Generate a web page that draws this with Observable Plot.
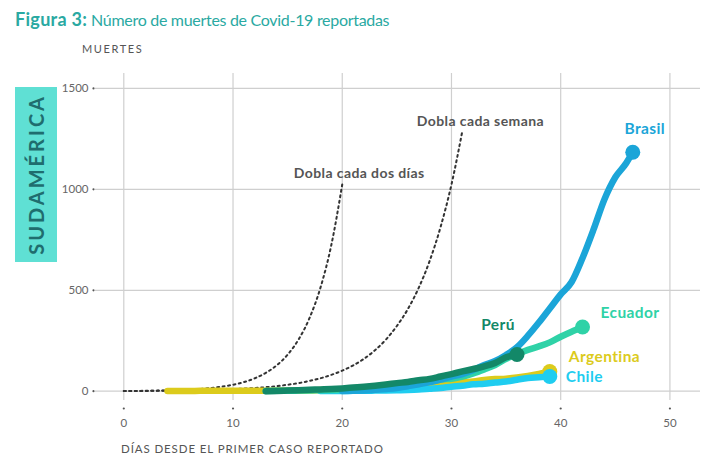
<!DOCTYPE html>
<html><head><meta charset="utf-8">
<script src="https://cdn.jsdelivr.net/npm/d3@7"></script>
<script src="https://cdn.jsdelivr.net/npm/@observablehq/plot@0.6"></script>
<style>
body{margin:0;background:#fff;font-family:Lato,sans-serif}
#wrap{position:relative;width:724px;height:462px;overflow:hidden;background:#fff}
#chart{position:absolute;left:0;top:0}
.title{position:absolute;left:15px;top:8px;font-size:16px;letter-spacing:-0.3px;color:#2aa9a2;white-space:nowrap}
.title b{font-weight:700;font-size:18px;letter-spacing:0.3px}
.ylab{position:absolute;left:82px;top:42px;font-size:11px;letter-spacing:1.6px;color:#555}
.xlab{position:absolute;left:121px;top:442px;font-size:11.5px;letter-spacing:0.9px;color:#555;white-space:nowrap}
.box{position:absolute;left:15px;top:87px;width:42px;height:175px;background:#5fe0d4;display:flex;align-items:center;justify-content:center}
.box span{writing-mode:vertical-rl;transform:rotate(180deg);font-size:20px;font-weight:700;letter-spacing:3px;color:#1f6d6e}
</style></head>
<body>
<div id="wrap">
  <div id="chart"></div>
  <div class="title"><b>Figura 3:</b> Número de muertes de Covid-19 reportadas</div>
  <div class="ylab">MUERTES</div>
  <div class="box"><span>SUDAMÉRICA</span></div>
  <div class="xlab">DÍAS DESDE EL PRIMER CASO REPORTADO</div>
</div>
<script>
const xTicks = [0, 10, 20, 30, 40, 50];
const yTicks = [0, 500, 1000, 1500];

// Reference curves
const dosDiasDay = [0,1,2,3,4,5,6,7,8,9,10,11,12,13,14,15,16,17,18,19,20];
const dosDiasVal = [1,1.4,2,2.8,4,5.7,8,11,16,23,32,45,64,91,128,181,256,362,512,724,1024];
const semanaDay = [0,1,2,3,4,5,6,7,8,9,10,11,12,13,14,15,16,17,18,19,20,21,22,23,24,25,26,27,28,29,30,31];
const semanaVal = [1,1.3,1.6,2,2.5,3.2,4,5,6.3,8,10,13,16,20,25,32,40,51,64,81,102,128,161,203,256,323,406,512,645,813,1024,1290];

// Countries
const brasilDay = [20,21,22,23,24,25,26,27,28,29,30,31,32,33,34,35,36,37,38,39,40,41,42,43,44,45,46,46.6];
const brasilVal = [1,2,4,7,11,16,25,34,45,57,72,85,105,130,150,180,218,275,340,410,480,541,660,800,950,1060,1130,1184];
const peruDay = [13,14,15,16,17,18,19,20,21,22,23,24,25,26,27,28,29,30,31,32,33,34,35,36];
const peruVal = [0,1,3,5,7,9,11,14,18,22,27,33,40,46,54,61,73,85,98,110,123,140,168,182];
const ecuadorDay = [13,14,15,16,17,18,19,20,21,22,23,24,25,26,27,28,29,30,31,32,33,34,35,36,37,38,39,40,41,42];
const ecuadorVal = [1,2,2,3,4,5,6,7,9,12,15,19,26,30,36,46,58,62,72,88,108,130,160,184,205,222,242,270,295,318];
const argentinaDay = [4,5,6,7,8,9,10,11,12,13,14,15,16,17,18,19,20,21,22,23,24,25,26,27,28,29,30,31,32,33,34,35,36,37,38,39];
const argentinaVal = [1,1,1,2,2,2,2,2,2,2,3,3,4,4,6,8,9,12,17,19,23,24,27,28,36,39,43,44,48,56,60,62,68,76,86,98];
const chileDay = [18,19,20,21,22,23,24,25,26,27,28,29,30,31,32,33,34,35,36,37,38,39];
const chileVal = [1,1,1,2,2,3,4,5,6,8,12,16,22,27,34,37,43,48,57,65,69,73];

const countries = [
  {name: "Argentina", day: argentinaDay, val: argentinaVal, color: "#dccb1c", dx: 19, dy: -14, anchor: "start"},
  {name: "Chile", day: chileDay, val: chileVal, color: "#1fcdf0", dx: 16, dy: 1, anchor: "start"},
  {name: "Ecuador", day: ecuadorDay, val: ecuadorVal, color: "#2fd2a7", dx: 18, dy: -14, anchor: "start"},
  {name: "Brasil", day: brasilDay, val: brasilVal, color: "#1ba5d8", dx: 12, dy: -23, anchor: "middle"},
  {name: "Perú", day: peruDay, val: peruVal, color: "#138868", dx: -19, dy: -29, anchor: "middle"}
];

const toRows = (days, vals) => days.map((d, i) => ({day: d, value: vals[i]}));

const marks = [];
marks.push(Plot.ruleY(yTicks, {stroke: "#cfcfcf", strokeWidth: 1.2}));
marks.push(Plot.ruleX(xTicks, {stroke: "#cfcfcf", strokeWidth: 1.2}));
marks.push(Plot.dot(xTicks, {x: d => d, frameAnchor: "bottom", dy: 8, r: 1.1, fill: "#555", stroke: null}));
marks.push(Plot.text(xTicks, {x: d => d, text: d => String(d), frameAnchor: "bottom", dy: 26, fill: "#666", fontSize: 11.5, fontFamily: "Lato"}));
marks.push(Plot.dot(yTicks, {y: d => d, frameAnchor: "left", dx: -2, r: 1.1, fill: "#555", stroke: null}));
marks.push(Plot.text(yTicks, {y: d => d, text: d => String(d), frameAnchor: "left", dx: -7, textAnchor: "end", fill: "#666", fontSize: 11.5, fontFamily: "Lato"}));

const dos = toRows(dosDiasDay, dosDiasVal);
const sem = toRows(semanaDay, semanaVal);
marks.push(Plot.line(sem, {x: "day", y: "value", stroke: "#333", strokeWidth: 2, strokeDasharray: "2,3.5", curve: "monotone-x"}));
marks.push(Plot.line(dos, {x: "day", y: "value", stroke: "#333", strokeWidth: 2, strokeDasharray: "2,3.5", curve: "monotone-x"}));
const refLabel = {fill: "#555", fontSize: 14, fontWeight: 700, fontFamily: "Lato", style: "letter-spacing:0.4px"};
marks.push(Plot.text([dos[dos.length - 1]], {x: "day", y: "value", text: () => "Dobla cada dos días", dx: 17, dy: -11, ...refLabel}));
marks.push(Plot.text([sem[sem.length - 1]], {x: "day", y: "value", text: () => "Dobla cada semana", dx: 18, dy: -9, ...refLabel}));

for (const c of countries) {
  marks.push(Plot.line(toRows(c.day, c.val), {x: "day", y: "value", stroke: c.color, strokeWidth: 6.5, curve: "monotone-x", strokeLinecap: "round", strokeLinejoin: "round"}));
}
for (const c of countries) {
  const rows = toRows(c.day, c.val);
  const last = rows[rows.length - 1];
  marks.push(Plot.dot([last], {x: "day", y: "value", r: 7.5, fill: c.color, stroke: null}));
  marks.push(Plot.text([last], {x: "day", y: "value", text: () => c.name, dx: c.dx, dy: c.dy, textAnchor: c.anchor, fill: c.color, fontSize: 15.5, fontWeight: 700, fontFamily: "Lato"}));
}

const chart = Plot.plot({
  width: 724,
  height: 462,
  marginLeft: 95,
  marginRight: 24,
  marginTop: 73,
  marginBottom: 62,
  x: {domain: [-2.59, 52.8], axis: null},
  y: {domain: [-46, 1574], axis: null},
  style: {background: "transparent", fontFamily: "Lato"},
  marks
});
chart.querySelectorAll("text").forEach(t => {
  if (/Dobla/.test(t.textContent) || ["Brasil","Ecuador","Perú","Argentina","Chile"].includes(t.textContent)) t.style.letterSpacing = "0.4px";
});
document.getElementById("chart").appendChild(chart);
</script>
</body></html>
